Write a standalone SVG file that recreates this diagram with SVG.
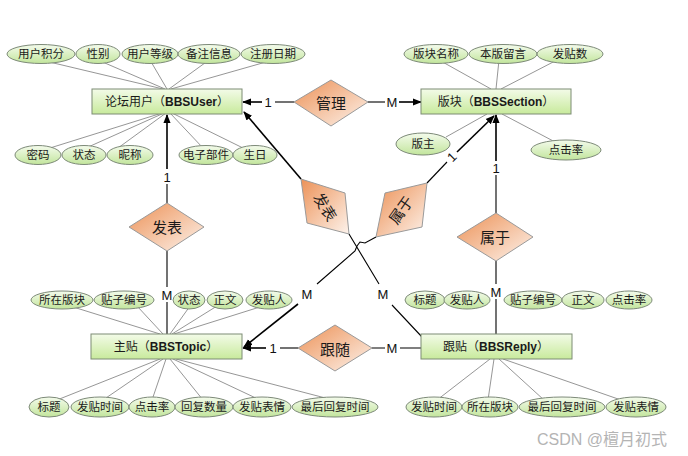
<svg xmlns="http://www.w3.org/2000/svg" width="688" height="456" viewBox="0 0 688 456">
<defs>
<linearGradient id="gBox" x1="0" y1="0" x2="0" y2="1"><stop offset="0" stop-color="#f3fbe8"/><stop offset="1" stop-color="#c8ea9c"/></linearGradient>
<linearGradient id="gEl" x1="0" y1="0" x2="0" y2="1"><stop offset="0" stop-color="#f4fbec"/><stop offset="1" stop-color="#c2e59c"/></linearGradient>
<linearGradient id="gDia" x1="0" y1="0" x2="1" y2="1"><stop offset="0" stop-color="#ec9156"/><stop offset="1" stop-color="#fdf3ec"/></linearGradient>
<marker id="arr" viewBox="0 0 10 10" refX="9" refY="5" markerWidth="9" markerHeight="9" markerUnits="userSpaceOnUse" orient="auto"><path d="M0,1 L10,5 L0,9 Z" fill="#000"/></marker>
<style>
.box{fill:url(#gBox);stroke:#7d8c74;stroke-width:1}
.el{fill:url(#gEl);stroke:#7d8a78;stroke-width:1}
.dia{fill:url(#gDia);stroke:#9a9a9a;stroke-width:1}
.att{stroke:#8a8a8a;stroke-width:0.9;fill:none}
.rel{stroke:#000;stroke-width:1.6;fill:none}
.relt{stroke:#000;stroke-width:1.1;fill:none}
.arrow{marker-end:url(#arr)}
text{font-family:"Liberation Sans","Noto Sans CJK SC",sans-serif;fill:#1a1a1a;text-anchor:middle;dominant-baseline:central}
.t{font-size:11.5px}
.tb{font-size:12px}
.tb tspan{font-weight:bold}
.td{font-size:15px}
.lab{font-size:13px;fill:#111}
.wm{font-size:16px;fill:#b4b4b4;text-anchor:start}
</style>
</defs>
<rect width="688" height="456" fill="#fff"/>
<g id="connectors">
<path class="att" d="M41,60 L163,89 M98,60 L165,89 M150,60 L167,89 M209,60 L169,89 M273,60 L171,89"/>
<path class="att" d="M50,148 L162,113 M86,148 L164,113 M118,148 L166,113 M203,148 L170,113 M243,148 L172,113"/>
<path class="att" d="M439,60 L491,89 M499,60 L496,89 M557,60 L501,89"/>
<path class="att" d="M446,137 L487,114 M557,143 L502,114"/>
<path class="att" d="M70,306 L160,334 M137,306 L163,334 M190,306 L170,334 M217,306 L172,334 M263,306 L174,334"/>
<path class="att" d="M57,400 L160,359 M103,400 L163,359 M152,400 L166,359 M203,400 L170,359 M260,400 L173,359 M333,400 L176,359"/>
<path class="att" d="M437,400 L490,359 M488,400 L494,359 M544,400 L499,359 M621,400 L503,359"/>
<path class="rel arrow" d="M167,169 L167,115"/>
<path class="relt" d="M167,184 L167,203 M167,251 L167,287 M167,302 L167,334"/>
<path class="rel arrow" d="M496,161 L496,115"/>
<path class="relt" d="M496,175 L496,213 M496,261 L496,284 M496,299 L496,334"/>
<path class="rel arrow" d="M262,102 L243,102"/>
<path class="relt" d="M275,102 L294,102"/>
<path class="relt" d="M368,102 L385,102"/>
<path class="rel arrow" d="M399,102 L421,102"/>
<path class="rel arrow" d="M266,348 L243,348"/>
<path class="relt" d="M280,348 L298,348"/>
<path class="relt" d="M372,348 L385,348 M400,348 L421,348"/>
<path class="rel arrow" d="M301,179 L244,112"/>
<path class="relt" d="M349,234 L379,284 M392,305 L422,337"/>
<path class="relt" d="M427,183 L447,162"/>
<path class="rel arrow" d="M457,152 L494,116"/>
<path class="relt" d="M376,237 L365,243 L360,242 L357,246 L355,251 L317,284"/>
<path class="rel arrow" d="M298,304 L244,347"/>
</g>
<g id="cardinality-labels">
<text class="lab" x="167" y="177">1</text>
<text class="lab" x="167" y="295">M</text>
<text class="lab" x="496" y="168">1</text>
<text class="lab" x="496" y="292">M</text>
<text class="lab" x="268" y="102">1</text>
<text class="lab" x="392" y="102">M</text>
<text class="lab" x="273" y="348">1</text>
<text class="lab" x="392" y="348">M</text>
<text class="lab" x="307" y="294">M</text>
<text class="lab" x="383" y="294">M</text>
<text class="lab" x="452" y="157" transform="rotate(-45 452 157)">1</text>
</g>
<g id="rel-fabiao-left"><polygon class="dia" points="129,227 167,203 204,227 167,251"/><text class="td" x="167" y="227">发表</text></g>
<g id="rel-shuyu-right"><polygon class="dia" points="457,237 496,213 533,237 496,261"/><text class="td" x="495" y="237">属于</text></g>
<g id="rel-guanli"><polygon class="dia" points="294,102 331,80 368,102 331,126"/><text class="td" x="331" y="103">管理</text></g>
<g id="rel-gensui"><polygon class="dia" points="298,348 335,325 372,348 335,371"/><text class="td" x="335" y="349">跟随</text></g>
<g id="rel-fabiao-center"><polygon class="dia" points="301,179 345,193 349,234 307,223"/><text class="td" x="325" y="207" transform="rotate(58 325 207)">发表</text></g>
<g id="rel-shuyu-center"><polygon class="dia" points="427,183 385,193 376,237 422,227"/><text class="td" x="401" y="210" transform="rotate(-55 401 210)">属于</text></g>
<g id="BBSUser"><rect class="box" x="92" y="89" width="150" height="25"/><text class="tb" x="167" y="102">论坛用户（<tspan>BBSUser</tspan>）</text></g>
<g id="BBSSection"><rect class="box" x="421" y="89" width="150" height="25"/><text class="tb" x="496" y="102">版块（<tspan>BBSSection</tspan>）</text></g>
<g id="BBSTopic"><rect class="box" x="91" y="334" width="151" height="25"/><text class="tb" x="166" y="347">主贴（<tspan>BBSTopic</tspan>）</text></g>
<g id="BBSReply"><rect class="box" x="421" y="334" width="151" height="25"/><text class="tb" x="496" y="347">跟贴（<tspan>BBSReply</tspan>）</text></g>
<g id="user-attrs">
<g id="u-jifen"><ellipse class="el" cx="41" cy="54" rx="34" ry="9.5"/><text class="t" x="41" y="54">用户积分</text></g>
<g id="u-xingbie"><ellipse class="el" cx="98" cy="54" rx="22" ry="9.5"/><text class="t" x="98" y="54">性别</text></g>
<g id="u-dengji"><ellipse class="el" cx="150" cy="54" rx="28" ry="9.5"/><text class="t" x="150" y="54">用户等级</text></g>
<g id="u-beizhu"><ellipse class="el" cx="209" cy="54" rx="31" ry="9.5"/><text class="t" x="209" y="54">备注信息</text></g>
<g id="u-zhuce"><ellipse class="el" cx="273" cy="54" rx="32" ry="9.5"/><text class="t" x="273" y="54">注册日期</text></g>
<g id="u-mima"><ellipse class="el" cx="38" cy="155" rx="23" ry="9.5"/><text class="t" x="38" y="155">密码</text></g>
<g id="u-zhuangtai"><ellipse class="el" cx="84" cy="155" rx="22" ry="9.5"/><text class="t" x="84" y="155">状态</text></g>
<g id="u-nicheng"><ellipse class="el" cx="130" cy="155" rx="23" ry="9.5"/><text class="t" x="130" y="155">昵称</text></g>
<g id="u-email"><ellipse class="el" cx="206" cy="155" rx="27" ry="9.5"/><text class="t" x="206" y="155">电子部件</text></g>
<g id="u-shengri"><ellipse class="el" cx="255" cy="155" rx="22" ry="9.5"/><text class="t" x="255" y="155">生日</text></g>
</g>
<g id="section-attrs">
<g id="s-mingcheng"><ellipse class="el" cx="436" cy="54" rx="32" ry="9.5"/><text class="t" x="436" y="54">版块名称</text></g>
<g id="s-liuyan"><ellipse class="el" cx="503" cy="54" rx="34" ry="9.5"/><text class="t" x="503" y="54">本版留言</text></g>
<g id="s-fatieshu"><ellipse class="el" cx="570" cy="54" rx="33" ry="9.5"/><text class="t" x="570" y="54">发贴数</text></g>
<g id="s-banzhu"><ellipse class="el" cx="423" cy="144" rx="27" ry="11"/><text class="t" x="423" y="144">版主</text></g>
<g id="s-dianji"><ellipse class="el" cx="566" cy="150" rx="35" ry="10"/><text class="t" x="566" y="150">点击率</text></g>
</g>
<g id="topic-attrs">
<g id="t-suozai"><ellipse class="el" cx="62" cy="300" rx="31" ry="9"/><text class="t" x="62" y="300">所在版块</text></g>
<g id="t-bianhao"><ellipse class="el" cx="124" cy="300" rx="30" ry="9"/><text class="t" x="124" y="300">贴子编号</text></g>
<g id="t-zhuangtai"><ellipse class="el" cx="189" cy="300" rx="16" ry="9"/><text class="t" x="189" y="300">状态</text></g>
<g id="t-zhengwen"><ellipse class="el" cx="225" cy="300" rx="18" ry="9"/><text class="t" x="225" y="300">正文</text></g>
<g id="t-fatieren"><ellipse class="el" cx="269" cy="300" rx="23" ry="9"/><text class="t" x="269" y="300">发贴人</text></g>
<g id="t-biaoti"><ellipse class="el" cx="49" cy="407" rx="20" ry="10"/><text class="t" x="49" y="407">标题</text></g>
<g id="t-shijian"><ellipse class="el" cx="100" cy="407" rx="29" ry="10"/><text class="t" x="100" y="407">发贴时间</text></g>
<g id="t-dianji"><ellipse class="el" cx="152" cy="407" rx="23" ry="10"/><text class="t" x="152" y="407">点击率</text></g>
<g id="t-huifu"><ellipse class="el" cx="204" cy="407" rx="29" ry="10"/><text class="t" x="204" y="407">回复数量</text></g>
<g id="t-biaoqing"><ellipse class="el" cx="262" cy="407" rx="29" ry="10"/><text class="t" x="262" y="407">发贴表情</text></g>
<g id="t-zuihou"><ellipse class="el" cx="335" cy="407" rx="43" ry="10"/><text class="t" x="335" y="407">最后回复时间</text></g>
</g>
<g id="reply-attrs">
<g id="r-biaoti"><ellipse class="el" cx="425" cy="300" rx="20" ry="9"/><text class="t" x="425" y="300">标题</text></g>
<g id="r-fatieren"><ellipse class="el" cx="467" cy="300" rx="23" ry="9"/><text class="t" x="467" y="300">发贴人</text></g>
<g id="r-bianhao"><ellipse class="el" cx="533" cy="300" rx="29" ry="9"/><text class="t" x="533" y="300">贴子编号</text></g>
<g id="r-zhengwen"><ellipse class="el" cx="583" cy="300" rx="21" ry="9"/><text class="t" x="583" y="300">正文</text></g>
<g id="r-dianji"><ellipse class="el" cx="629" cy="300" rx="23" ry="9"/><text class="t" x="629" y="300">点击率</text></g>
<g id="r-shijian"><ellipse class="el" cx="434" cy="407" rx="28" ry="10"/><text class="t" x="434" y="407">发贴时间</text></g>
<g id="r-suozai"><ellipse class="el" cx="490" cy="407" rx="28" ry="10"/><text class="t" x="490" y="407">所在版块</text></g>
<g id="r-zuihou"><ellipse class="el" cx="562" cy="407" rx="43" ry="10"/><text class="t" x="562" y="407">最后回复时间</text></g>
<g id="r-biaoqing"><ellipse class="el" cx="636" cy="407" rx="30" ry="10"/><text class="t" x="636" y="407">发贴表情</text></g>
</g>
<text class="wm" x="537" y="439">CSDN @檀月初式</text>
</svg>
